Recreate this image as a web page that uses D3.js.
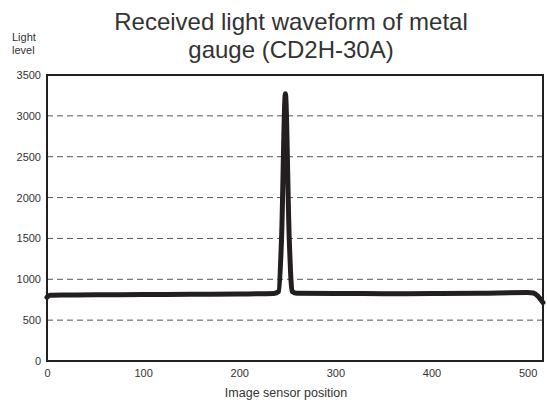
<!DOCTYPE html>
<html><head><meta charset="utf-8">
<script src="https://cdn.jsdelivr.net/npm/d3@7"></script>
<style>body{margin:0;background:#fff}svg{display:block}text{font-family:"Liberation Sans",Arial,sans-serif}</style>
</head><body>
<svg id="c" width="547" height="407"></svg>
<script>
const positions = [0, 3, 20, 50, 100, 150, 200, 236, 241, 244, 248, 252, 255, 260, 300, 350, 400, 450, 500, 506, 516];
const lightLevels = [780, 805, 808, 810, 813, 816, 820, 826, 850, 1500, 3270, 1500, 850, 828, 826, 824, 825, 830, 838, 832, 715];
const xTicks = [0, 100, 200, 300, 400, 500];
const yTicks = [0, 500, 1000, 1500, 2000, 2500, 3000, 3500];
const gridValues = [500, 1000, 1500, 2000, 2500, 3000];
const titleLines = ["Received light waveform of metal", "gauge (CD2H-30A)"];

const FONT = '"Liberation Sans",Arial,sans-serif';
const svg = d3.select("#c");
const m = {l: 47, r: 543, t: 75, b: 361};
const x = d3.scaleLinear().domain([0, 516]).range([m.l, m.r]);
const y = d3.scaleLinear().domain([0, 3500]).range([m.b, m.t]);

// grid
svg.append("g").selectAll("line").data(gridValues).join("line")
  .attr("x1", m.l).attr("x2", m.r).attr("y1", d => y(d)).attr("y2", d => y(d))
  .attr("stroke", "#555").attr("stroke-width", 1).attr("stroke-dasharray", "6,4");

// line
const data = positions.map((p, i) => [p, lightLevels[i]]);
svg.append("path").datum(data)
  .attr("d", d3.line().x(d => x(d[0])).y(d => y(d[1])).curve(d3.curveMonotoneX))
  .attr("fill", "none").attr("stroke", "#231f20").attr("stroke-width", 5)
  .attr("stroke-linejoin", "round").attr("stroke-linecap", "round");

// frame
svg.append("rect").attr("x", m.l).attr("y", m.t).attr("width", m.r - m.l).attr("height", m.b - m.t)
  .attr("fill", "none").attr("stroke", "#231f20").attr("stroke-width", 2);

// y axis labels
const ya = svg.append("g").attr("transform", `translate(${m.l},0)`)
  .call(d3.axisLeft(y).tickValues(yTicks).tickFormat(d3.format("d")).tickSize(0).tickPadding(6));
ya.select(".domain").remove();
ya.selectAll("text").attr("font-size", 11).attr("fill", "#333").attr("font-family", FONT);

// x axis labels
const xa = svg.append("g").attr("transform", `translate(0,${m.b})`)
  .call(d3.axisBottom(x).tickValues(xTicks).tickFormat(d3.format("d")).tickSize(0).tickPadding(8));
xa.select(".domain").remove();
xa.selectAll("text").attr("font-size", 11).attr("fill", "#333").attr("font-family", FONT);

// axis titles
svg.append("text").attr("x", 286).attr("y", 397).attr("text-anchor", "middle")
  .attr("font-size", 12.5).attr("fill", "#333").text("Image sensor position");
svg.append("text").attr("x", 12).attr("y", 41).attr("font-size", 11).attr("fill", "#333").text("Light");
svg.append("text").attr("x", 12).attr("y", 54).attr("font-size", 11).attr("fill", "#333").text("level");

// title
svg.append("g").selectAll("text").data(titleLines).join("text")
  .attr("x", 291).attr("y", (d, i) => 29.5 + i * 28).attr("text-anchor", "middle")
  .attr("font-size", 24).attr("fill", "#333").text(d => d);
</script>
</body></html>
